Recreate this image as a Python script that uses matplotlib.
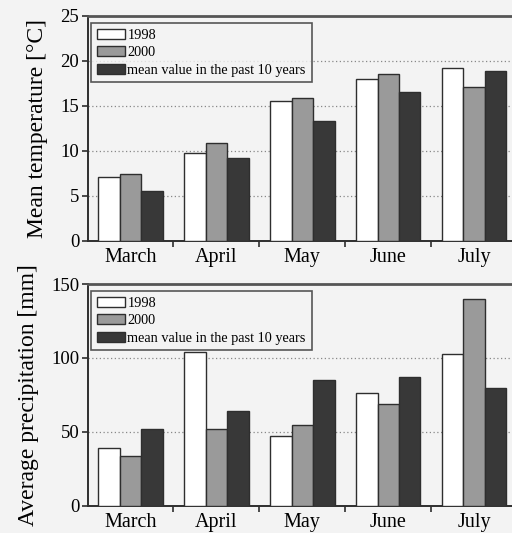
import numpy as np
import matplotlib
matplotlib.use("Agg")
import matplotlib.pyplot as plt

# ---------- data ----------
months = ["March", "April", "May", "June", "July"]
series = ["1998", "2000", "mean value in the past 10 years"]

temp_1998 = [7.1, 9.8, 15.6, 18.0, 19.2]
temp_2000 = [7.4, 10.9, 15.9, 18.6, 17.1]
temp_mean = [5.6, 9.2, 13.3, 16.5, 18.9]

prec_1998 = [39, 104, 47.5, 76, 103]
prec_2000 = [34, 52, 55, 69, 140]
prec_mean = [52, 64, 85, 87, 80]
# --------------------------

BG = "#f3f3f3"
EDGE = "#2e2e2e"
COLORS = ["#ffffff", "#9a9a9a", "#383838"]

plt.rcParams["font.family"] = ["Liberation Serif", "DejaVu Serif"]

fig = plt.figure(figsize=(5.12, 5.33), dpi=100, facecolor=BG)
ax1 = fig.add_axes([0.171, 0.548, 0.829, 0.422])
ax2 = fig.add_axes([0.171, 0.051, 0.829, 0.416])

x = np.arange(len(months))
w = 0.25


def draw(ax, values, ymax, step, ylabel):
    ax.set_facecolor(BG)
    for i, (vals, col, lab) in enumerate(zip(values, COLORS, series)):
        ax.bar(x + (i - 1) * w, vals, w, color=col, edgecolor=EDGE,
               linewidth=1.0, label=lab, zorder=3)
    ax.set_xlim(-0.5, 4.44)
    ax.set_ylim(0, ymax)
    ax.set_yticks(np.arange(0, ymax + 1, step))
    for yv in np.arange(step, ymax, step):
        ax.axhline(yv, color="#888888", lw=0.9, ls=(0, (1, 2)), zorder=1)
    # ticks at group boundaries, labels at group centres
    ax.set_xticks(x[:-1] + 0.5)
    ax.set_xticklabels([])
    ax.set_xticks(x, minor=True)
    ax.set_xticklabels(months, minor=True, fontsize=14.5)
    ax.tick_params(axis="x", which="minor", length=0, pad=5)
    ax.tick_params(axis="x", which="major", length=4, width=1.2, color=EDGE)
    ax.tick_params(axis="y", length=4, width=1.2, color=EDGE, labelsize=13.5, pad=2)
    for s in ("left", "bottom", "top"):
        ax.spines[s].set_color(EDGE)
        ax.spines[s].set_linewidth(1.4)
    ax.spines["top"].set_color("#555555")
    ax.spines["top"].set_linewidth(2.0)
    ax.spines["right"].set_visible(False)
    ax.set_ylabel(ylabel, fontsize=17, labelpad=9)
    leg = ax.legend(loc="upper left", bbox_to_anchor=(0.008, 0.968), fontsize=10.3,
                    frameon=True, fancybox=False, edgecolor=EDGE,
                    handlelength=2.0, handleheight=0.7, handletextpad=0.15,
                    labelspacing=0.3, borderpad=0.4, borderaxespad=0.0)
    leg.get_frame().set_facecolor(BG)
    leg.get_frame().set_linewidth(1.2)


draw(ax1, [temp_1998, temp_2000, temp_mean], 25, 5, "Mean temperature [°C]")
draw(ax2, [prec_1998, prec_2000, prec_mean], 150, 50, "Average precipitation [mm]")

fig.savefig("out.png", dpi=100, facecolor=BG)
